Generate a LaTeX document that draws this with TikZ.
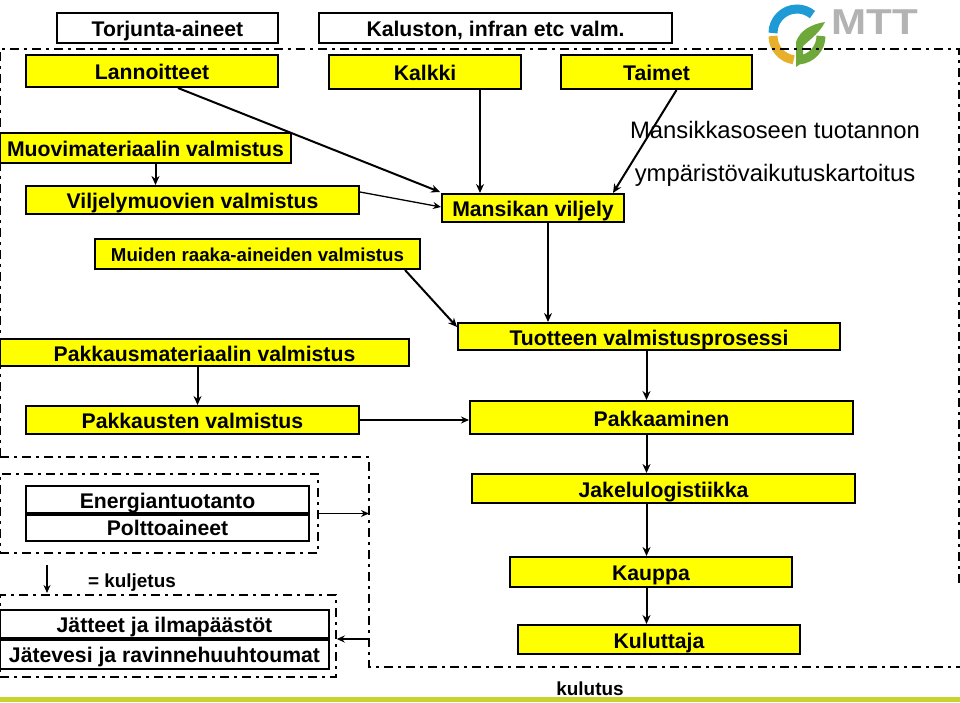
\documentclass[tikz,border=0pt]{standalone}
\usepackage{fontspec}
\setmainfont{Liberation Sans}
\usepackage{xcolor}
\usetikzlibrary{arrows.meta}
\definecolor{boxC}{rgb}{1,1,0}
\definecolor{stripC}{HTML}{C8D42E}
\definecolor{logoblueC}{HTML}{1E9AD6}
\definecolor{logoyellowC}{HTML}{E8B02A}
\definecolor{logogreenC}{HTML}{6FA83A}
\definecolor{logogreyC}{HTML}{B3B3B3}
\tikzset{
  whitebox/.style={draw,line width=2pt,fill=white,inner sep=0pt,text height=17pt,text depth=0pt,font=\bfseries\fontsize{21.2}{23}\selectfont},
  yellowbox/.style={whitebox,fill=boxC},
  flow/.style={-{Stealth[length=9pt,width=8pt]},line width=2pt},
  thinflow/.style={-{Stealth[length=8pt,width=7pt]},line width=1.3pt},
  frame/.style={line width=1.5pt,dash pattern=on 9pt off 5pt on 3pt off 5pt}
}
\begin{document}
\begin{tikzpicture}[x=1pt,y=-1pt]
        \newcommand\boxAt[6]{\node[#1,minimum width=#4 pt-#3 pt,minimum height=#6 pt-#5 pt] (#2) at ({(#3+#4)/2},{(#5+#6)/2})}
        \useasboundingbox (0,0) rectangle (960,702);
        \fill[stripC] (0,697) rectangle (960,702);
        % logo
        \draw[logoblueC,line width=9pt] (773,33) arc (180:310:24);
        \draw[logoyellowC,line width=9pt] (773,36) arc (180:98:24);
        \draw[logogreenC,line width=9pt] (821,36) arc (0:85:24);
        \fill[logogreenC] (796,67) -- (796,42) .. controls (800,30) and (812,24) .. (825,22) .. controls (820,32) and (812,38) .. (803,46) -- (803,62) -- cycle;
        \node[logogreyC,font=\bfseries\fontsize{36}{36}\selectfont,inner sep=0pt,xscale=1.17] (logo) at (875,22.5) {MTT};
        % frames
        \draw[frame] (0,457) -- (0,49) -- (959,49) -- (959,585);
        \draw[frame] (0,457) -- (369,457) -- (369,667) -- (960,667);
        \boxAt{frame,draw}{energiakehys}{0}{318}{474}{553} {};
        \boxAt{frame,draw}{jatekehys}{0}{336}{595}{677} {};
        \coordinate (kehysin) at (369,513.5);
        \coordinate (kehysout) at (369,639);
        % boxes
        \boxAt{whitebox}{torjunta}{57}{278}{13}{43} {Torjunta-aineet};
        \boxAt{whitebox}{kalusto}{319}{672}{13}{43} {Kaluston, infran etc valm.};
        \boxAt{yellowbox}{lannoite}{26}{278}{55}{87} {Lannoitteet};
        \boxAt{yellowbox}{kalkki}{329}{521}{55}{89} {Kalkki};
        \boxAt{yellowbox}{taimet}{561}{752}{55}{89} {Taimet};
        \boxAt{yellowbox}{muovi}{0}{291}{133}{163} {Muovimateriaalin valmistus};
        \boxAt{yellowbox}{viljelymuovi}{26}{359}{186}{214} {Viljelymuovien valmistus};
        \boxAt{yellowbox}{viljely}{442}{624}{194}{222} {Mansikan viljely};
        \boxAt{yellowbox,font=\bfseries\fontsize{18.7}{20}\selectfont,text height=15pt}{raaka}{95}{420}{239}{269} {Muiden raaka-aineiden valmistus};
        \boxAt{yellowbox}{pakkausmat}{0}{409}{339}{366} {Pakkausmateriaalin valmistus};
        \boxAt{yellowbox}{tuote}{458}{840}{323}{350} {Tuotteen valmistusprosessi};
        \boxAt{yellowbox}{pakkaus}{26}{359}{406}{434} {Pakkausten valmistus};
        \boxAt{yellowbox}{pakkaaminen}{470}{853}{401}{434} {Pakkaaminen};
        \boxAt{whitebox}{energia}{26}{309}{486}{513} {Energiantuotanto};
        \boxAt{whitebox}{poltto}{26}{309}{513}{541} {Polttoaineet};
        \boxAt{yellowbox}{jakelu}{472}{855}{474}{503} {Jakelulogistiikka};
        \boxAt{yellowbox}{kauppa}{510}{792}{557}{587} {Kauppa};
        \boxAt{yellowbox}{kuluttaja}{518}{800}{625}{654} {Kuluttaja};
        \boxAt{whitebox}{jatteet}{0}{329}{610}{638} {Jätteet ja ilmapäästöt};
        \boxAt{whitebox}{jatevesi}{0}{329}{638}{669} {Jätevesi ja ravinnehuuhtoumat};
        \draw[line width=3.5pt] (energia.south west) -- (energia.south east);
        \draw[line width=3.5pt] (jatteet.south west) -- (jatteet.south east);
        % free texts
        \node[font=\fontsize{23.8}{26}\selectfont,inner sep=0pt,align=center] (otsikko) at (775,154) {Mansikkasoseen tuotannon\\[17pt]ympäristövaikutuskartoitus};
        \node[font=\bfseries\fontsize{18.9}{20}\selectfont,inner sep=0pt] (kuljetus) at (132,583) {= kuljetus};
        \node[font=\bfseries\fontsize{18.9}{20}\selectfont,inner sep=0pt] (kulutus) at (590,689) {kulutus};
        \coordinate (selitealku) at (47,565);
        \coordinate (seliteloppu) at (47,593);
        % arrows
        \draw[flow] ([xshift=26pt]lannoite.south) -- ([yshift=1pt,xshift=-1pt]viljely.north west);
        \draw[flow] ([xshift=-53pt]viljely.north |- kalkki.south) -- ([xshift=-53pt]viljely.north);
        \draw[flow] ([xshift=20pt]taimet.south) -- ([xshift=-12pt]viljely.north east);
        \draw[flow] ([xshift=10pt]muovi.south) -- ([xshift=-37pt]viljelymuovi.north);
        \draw[thinflow] ([yshift=-7pt]viljelymuovi.north east) -- ([yshift=-14pt]viljely.north west);
        \draw[flow] ([xshift=-16pt]raaka.south east) -- ([yshift=-5pt]tuote.north west);
        \draw[flow] ([xshift=15pt]viljely.south) -- ([xshift=-101pt]tuote.north);
        \draw[flow] ([xshift=-7pt]pakkausmat.south) -- ([xshift=5pt]pakkaus.north);
        \draw[thinflow] (pakkaus.east) -- (pakkaus.east -| pakkaaminen.west);
        \draw[flow] ([xshift=-2.5pt]tuote.south) -- ([xshift=-15pt]pakkaaminen.north);
        \draw[flow] ([xshift=-15pt]pakkaaminen.south) -- ([xshift=-17pt]jakelu.north);
        \draw[flow] ([xshift=-17pt]jakelu.south) -- ([xshift=-4.5pt]kauppa.north);
        \draw[flow] ([xshift=-4.5pt]kauppa.south) -- ([xshift=-12.5pt]kuluttaja.north);
        \draw[thinflow] (energiakehys.east) -- (kehysin);
        \draw[thinflow] (kehysout) -- ([yshift=-3pt]jatekehys.east);
        \draw[thinflow] (selitealku) -- (seliteloppu);
\end{tikzpicture}
\end{document}
